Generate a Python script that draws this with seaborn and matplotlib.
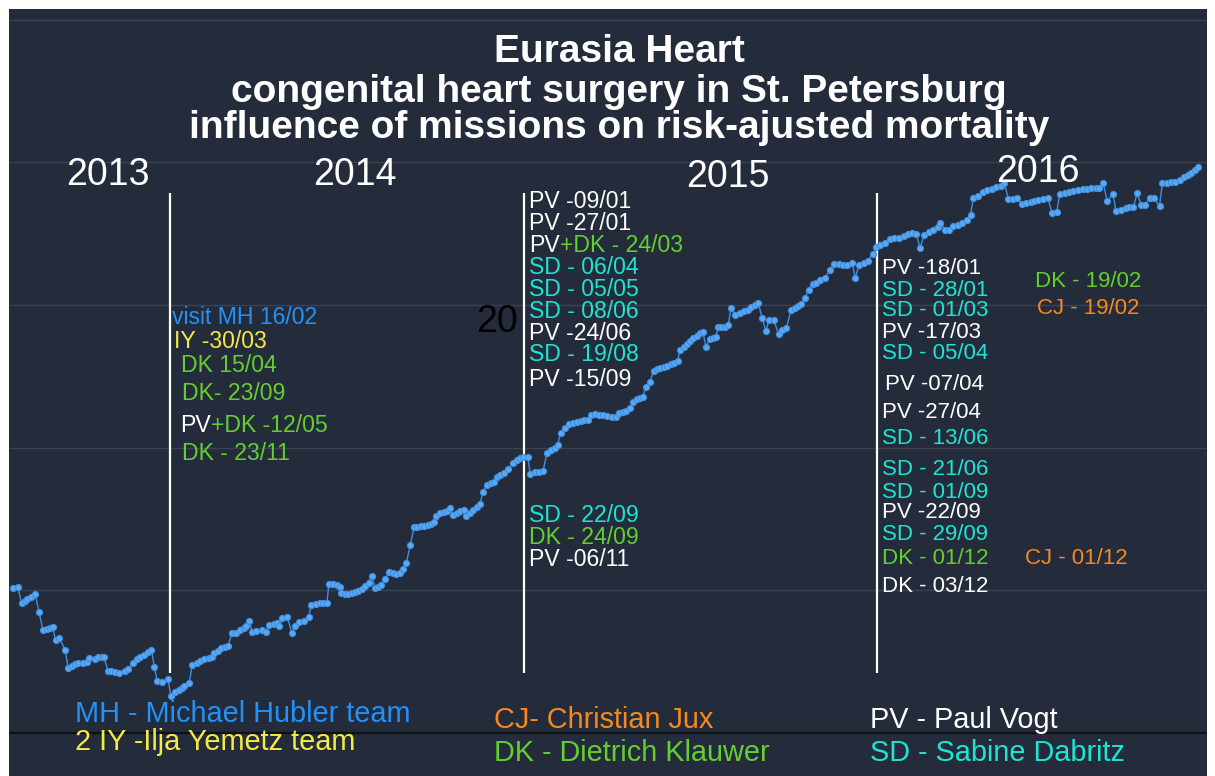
import matplotlib
matplotlib.use("Agg")
import matplotlib.pyplot as plt
import seaborn as sns
import pandas as pd

# ---------------- data ----------------
# days since 1 Jan 2014 of each operated case, and cumulative risk-adjusted score (VLAD-like units)
days = [-162, -157, -153, -150, -147, -143, -139, -135, -131, -127, -124, -121, -118, -114, -108,
        -105, -101, -98, -95, -90, -86, -83, -77, -74, -70, -68,
        -64, -61, -57, -52, -46, -43,
        -38, -34, -31, -27, -23, -19,
        -16,
        -13, -8, -2,
        1,
        5, 9, 12, 15, 20,
        23,
        28, 31, 35, 40, 43, 46, 50, 53, 57, 60,
        64, 68, 72, 76, 79, 82,
        85, 89, 95, 99,
        102, 107, 110, 113,
        116, 121,
        126,
        129, 133,
        138, 143, 146, 151, 155, 158, 162, 164, 168, 172, 175, 177, 181, 184, 188, 191, 194, 198, 201, 205,
        208, 212, 215, 218, 222, 226, 230, 233, 237, 241, 244, 248, 252, 255, 259, 262, 266, 269, 272, 275,
        279, 283, 286, 289, 292, 296, 299, 303, 306, 310, 313, 317, 320, 323, 327, 331, 334, 337, 341, 345,
        349, 354, 358, 361, 364, 369,
        372, 377, 381, 385, 389, 393, 397, 400, 403, 408, 412, 416, 420, 424, 427, 431, 434, 439, 443, 447,
        451, 456, 460, 463, 467, 471, 475, 478, 482, 485, 488, 491, 495, 499, 503, 506, 510, 513, 517, 520,
        524, 526, 530, 533, 537, 540, 544, 547, 550, 553, 557, 560, 563, 566, 569, 573, 576, 579, 583, 588,
        592, 596, 600, 604, 607, 611, 615, 618, 623, 628, 632, 636, 641, 645, 648, 651, 655, 659, 663, 667,
        671, 676, 681, 685, 690, 694, 699, 704, 707, 711, 716, 720, 725, 729, 733, 738, 743, 747, 752, 757,
        762, 766, 770, 774, 778, 783, 787, 792, 795, 800, 804, 808, 813, 817, 822, 826, 829, 834, 839, 843,
        848, 852, 857, 861, 865, 870, 874, 879, 883, 888, 892, 896, 901, 906, 910, 915, 918, 924, 928, 932,
        937, 942, 946, 950, 955, 959, 963, 967, 973, 976, 981, 986, 990, 994, 998, 1002, 1006, 1011, 1015, 1021,
        1024, 1029, 1033, 1037, 1042, 1046, 1050, 1054, 1058, 1061]

score = [145, 146, 130, 132, 134, 136, 139, 121, 103, 104, 105, 106, 93, 95, 83,
         65, 67, 69, 70, 70, 71, 75, 74, 76, 76, 76,
         62, 62, 61, 60, 62, 64,
         70, 74, 76, 78, 81, 83,
         66,
         52, 51, 54,
         37,
         41, 43, 45, 47, 50,
         68,
         70, 72, 74, 75, 76, 80, 82, 85, 86, 87,
         100, 100, 103, 105, 107, 112,
         101, 102, 103, 101,
         108, 109, 110, 107,
         115, 116,
         100,
         107, 111,
         112, 116, 128, 129, 130, 130, 130, 149, 149, 148, 146, 140, 139, 139, 140, 141, 142, 144, 147, 150,
         157, 145, 146, 148, 154, 161, 160, 159, 160, 164, 170, 188, 206, 206, 207, 207, 208, 209, 211, 217,
         220, 221, 222, 225, 218, 220, 222, 223, 217, 220, 223, 226, 229, 241, 248, 250, 251, 256, 258, 260,
         264, 270, 273, 275, 276, 276,
         259, 261, 261, 262, 280, 283, 285, 288, 300, 305, 309, 310, 311, 312, 313, 313, 318, 319, 318, 318,
         317, 316, 316, 320, 321, 322, 325, 331, 334, 335, 336, 346, 351, 362, 364, 365, 366, 367, 369, 370,
         372, 383, 386, 389, 392, 395, 397, 400, 401, 386, 394, 395, 396, 406, 406, 406, 408, 425, 418, 420,
         422, 423, 426, 428, 430, 415, 402, 413, 413, 399, 403, 405, 423, 425, 427, 429, 435, 443, 449, 450,
         453, 455, 463, 469, 469, 468, 468, 470, 455, 468, 470, 472, 479, 486, 488, 490, 494, 495, 495, 497,
         499, 500, 499, 485, 498, 501, 503, 506, 510, 503, 503, 507, 508, 510, 513, 518, 535, 537, 541, 543,
         544, 546, 547, 550, 534, 534, 535, 529, 530, 531, 532, 533, 534, 535, 520, 521, 539, 540, 541, 542,
         543, 544, 544, 545, 545, 545, 550, 532, 539, 522, 523, 525, 526, 526, 540, 528, 528, 535, 535, 527,
         550, 550, 551, 551, 553, 556, 558, 560, 563, 566]

years = ["2013", "2014", "2015", "2016"]
year_label_days = [-64, 191, 576, 896]
year_label_score = [558, 558, 556, 561]
year_starts = [0, 365, 730]

title_lines = ["Eurasia Heart",
               "congenital heart surgery in St. Petersburg",
               "influence of missions on risk-ajusted mortality"]

C_MH, C_IY, C_DK, C_SD, C_CJ, C_PV = "#2391f5", "#f3ea45", "#63cf2f", "#1fe3d3", "#f7891c", "#ffffff"

# missions: list of (text parts, pixel x, pixel y)
missions_2014 = [([("visit MH 16/02", C_MH)], 172, 317),
                 ([("IY -30/03", C_IY)], 174, 342),
                 ([("DK 15/04", C_DK)], 181, 366),
                 ([("DK- 23/09", C_DK)], 182, 393),
                 ([("PV", C_PV), ("+DK -12/05", C_DK)], 180, 425),
                 ([("DK - 23/11", C_DK)], 182, 453)]
missions_2015 = [([("PV -09/01", C_PV)], 529, 202),
                 ([("PV -27/01", C_PV)], 529, 224),
                 ([("PV", C_PV), ("+DK - 24/03", C_DK)], 529, 246),
                 ([("SD - 06/04", C_SD)], 529, 268),
                 ([("SD - 05/05", C_SD)], 529, 290),
                 ([("SD - 08/06", C_SD)], 529, 312),
                 ([("PV -24/06", C_PV)], 529, 333),
                 ([("SD - 19/08", C_SD)], 529, 355),
                 ([("PV -15/09", C_PV)], 529, 380),
                 ([("SD - 22/09", C_SD)], 529, 515),
                 ([("DK - 24/09", C_DK)], 529, 537),
                 ([("PV -06/11", C_PV)], 529, 559)]
missions_2016 = [([("PV -18/01", C_PV)], 882, 269),
                 ([("SD - 28/01", C_SD)], 882, 290),
                 ([("SD - 01/03", C_SD)], 882, 311),
                 ([("PV -17/03", C_PV)], 882, 332),
                 ([("SD - 05/04", C_SD)], 882, 354),
                 ([("PV -07/04", C_PV)], 885, 384),
                 ([("PV -27/04", C_PV)], 882, 413),
                 ([("SD - 13/06", C_SD)], 882, 438),
                 ([("SD - 21/06", C_SD)], 882, 470),
                 ([("SD - 01/09", C_SD)], 882, 492),
                 ([("PV -22/09", C_PV)], 882, 513),
                 ([("SD - 29/09", C_SD)], 882, 534),
                 ([("DK - 01/12", C_DK)], 882, 558),
                 ([("DK - 03/12", C_PV)], 882, 587),
                 ([("DK - 19/02", C_DK)], 1035, 281),
                 ([("CJ - 19/02", C_CJ)], 1037, 309),
                 ([("CJ - 01/12", C_CJ)], 1025, 558)]
legend_items = [("MH - Michael Hubler team", C_MH, 75, 714),
                ("2 IY -Ilja Yemetz team", C_IY, 75, 742),
                ("CJ- Christian Jux", C_CJ, 494, 720),
                ("DK - Dietrich Klauwer", C_DK, 494, 753),
                ("PV - Paul Vogt", C_PV, 870, 720),
                ("SD - Sabine Dabritz", C_SD, 870, 753)]

# ---------------- drawing ----------------
W, H = 1215, 776
BG = "#242c3c"
FONT = "Liberation Sans"

fig = plt.figure(figsize=(W / 100, H / 100), dpi=100, facecolor="white")
ax = fig.add_axes([9 / W, 0, 1198 / W, 767 / H])
ax.set_facecolor(BG)

df = pd.DataFrame({"day": days, "score": score})
sns.lineplot(data=df, x="day", y="score", ax=ax, estimator=None, sort=False,
             color="#3f8fe0", linewidth=1.0, marker="o", markersize=4.4,
             markerfacecolor="#5aa8f2", markeredgecolor="#3f8fe0", markeredgewidth=0.8)

ax.set_xlim(-166, 1070)
ax.set_ylim(-43, 724)
grid_levels = [142.6, 285.3, 428.0, 570.6, 713.2]
for g in grid_levels:
    ax.axhline(g, color="#3a4253", lw=1.0, zorder=0)
ax.axhline(0, color="#0d1017", lw=1.6, zorder=0)
ax.vlines(year_starts, 60, 540, color="white", lw=1.6, zorder=1)
for s in ax.spines.values():
    s.set_visible(False)
ax.set_xticks([])
ax.set_yticks([])
ax.set_xlabel("")
ax.set_ylabel("")

for lab, d, sc in zip(years, year_label_days, year_label_score):
    ax.text(d, sc, lab, color="white", fontsize=27, ha="center", va="center", family=FONT, zorder=3)


def fx(x):
    return x / W


def fy(y):
    return 1 - y / H


for i, line in enumerate(title_lines):
    fig.text(fx(619), fy([52, 92, 128][i]), line, color="white", fontsize=28, fontweight="bold",
             ha="center", va="center", family=FONT)

# stray black "20" behind the 2015 mission list
fig.text(fx(476), fy(322), "20", color="black", fontsize=27, ha="left", va="center", family=FONT)

fig.canvas.draw()
renderer = fig.canvas.get_renderer()


def draw_parts(parts, x, y, size):
    xpix = x
    for txt, col in parts:
        t = fig.text(fx(xpix), fy(y), txt, color=col, fontsize=size, ha="left", va="center", family=FONT)
        bb = t.get_window_extent(renderer=renderer)
        xpix += bb.width


for block, size in ((missions_2014, 16.6), (missions_2015, 16.6), (missions_2016, 16.0)):
    for parts, x, y in block:
        draw_parts(parts, x, y, size)

for txt, col, x, y in legend_items:
    fig.text(fx(x), fy(y), txt, color=col, fontsize=20.8, ha="left", va="center", family=FONT)

fig.savefig("out.png", dpi=100, facecolor="white")
